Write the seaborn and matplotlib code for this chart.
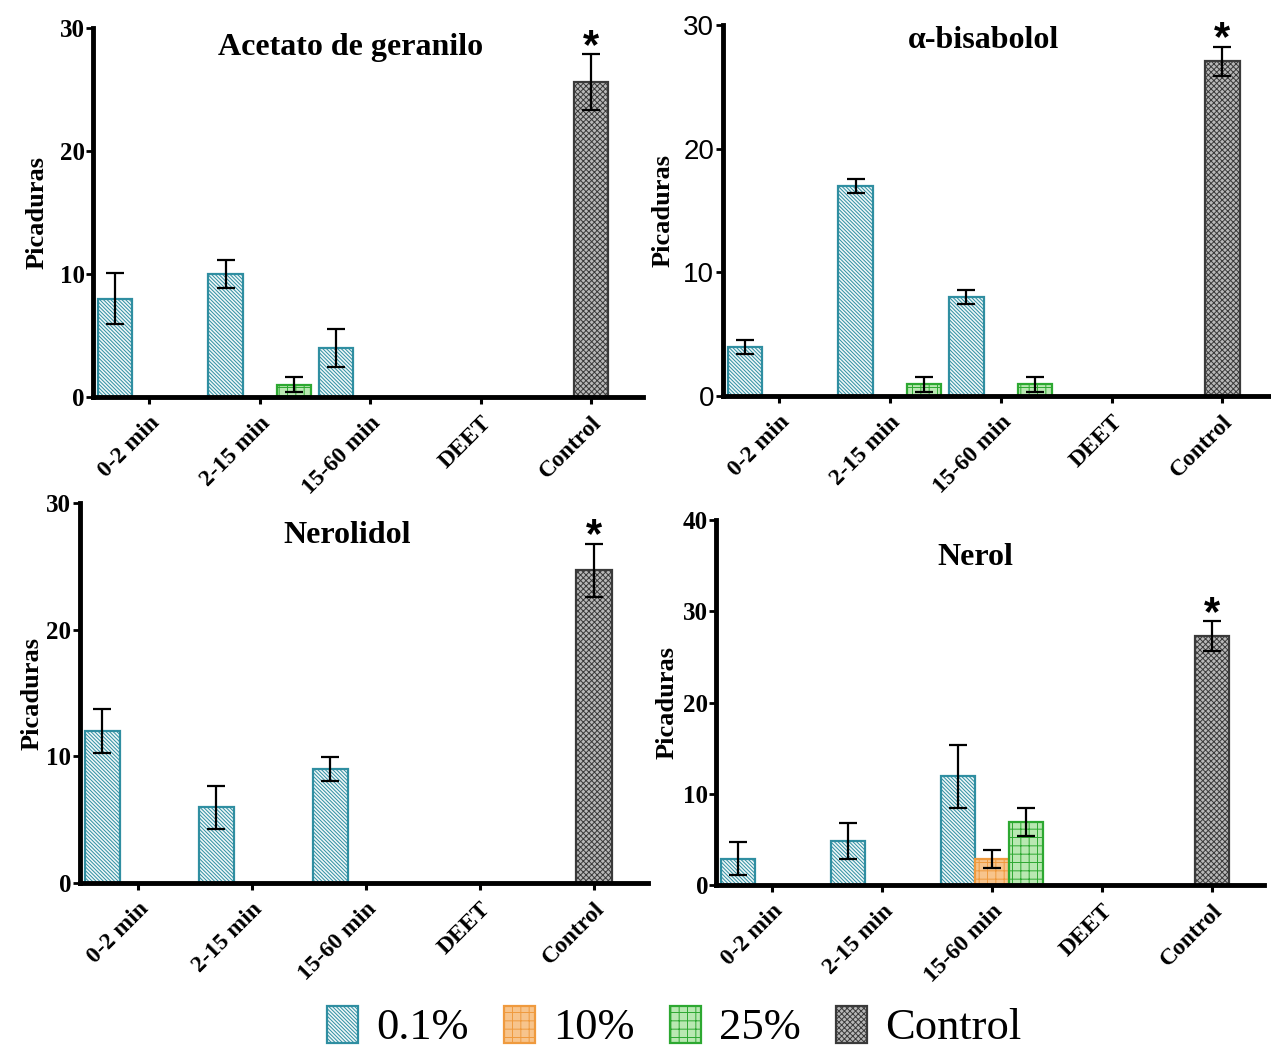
import numpy as np
import pandas as pd
import matplotlib
matplotlib.use('Agg')
import matplotlib.pyplot as plt
from matplotlib.patches import Patch
import seaborn as sns

# -----------------------------
# Datos
# -----------------------------

categorias = ['0-2 min', '2-15 min', '15-60 min', 'DEET', 'Control']
niveles = ['0.1%', '10%', '25%']

# Acetato de geranilo
acetato_01 = [8.0, 10.0, 4.0, 0, 0]
acetato_01_err = [2.1, 1.15, 1.55, 0, 0]
acetato_10 = [0, 0, 0, 0, 0]
acetato_10_err = [0, 0, 0, 0, 0]
acetato_25 = [0, 1.0, 0, 0, 0]
acetato_25_err = [0, 0.6, 0, 0, 0]
acetato_control = 25.6
acetato_control_err = 2.25

# alfa-bisabolol
bisabolol_01 = [3.95, 17.0, 8.0, 0, 0]
bisabolol_01_err = [0.57, 0.58, 0.55, 0, 0]
bisabolol_10 = [0, 0, 0, 0, 0]
bisabolol_10_err = [0, 0, 0, 0, 0]
bisabolol_25 = [0, 0.95, 0.95, 0, 0]
bisabolol_25_err = [0, 0.6, 0.6, 0, 0]
bisabolol_control = 27.05
bisabolol_control_err = 1.2

# Nerolidol
nerolidol_01 = [12.0, 6.0, 9.0, 0, 0]
nerolidol_01_err = [1.72, 1.7, 0.96, 0, 0]
nerolidol_10 = [0, 0, 0, 0, 0]
nerolidol_10_err = [0, 0, 0, 0, 0]
nerolidol_25 = [0, 0, 0, 0, 0]
nerolidol_25_err = [0, 0, 0, 0, 0]
nerolidol_control = 24.7
nerolidol_control_err = 2.1

# Nerol
nerol_01 = [2.9, 4.85, 11.9, 0, 0]
nerol_01_err = [1.8, 2.0, 3.5, 0, 0]
nerol_10 = [0, 0, 2.87, 0, 0]
nerol_10_err = [0, 0, 0.97, 0, 0]
nerol_25 = [0, 0, 6.9, 0, 0]
nerol_25_err = [0, 0, 1.5, 0, 0]
nerol_control = 27.26
nerol_control_err = 1.64

# -----------------------------
# Estilos
# -----------------------------

estilos = {
    '0.1%': dict(facecolor='#eef7f8', edgecolor='#2f8ea1', hatch='\\' * 9),
    '10%': dict(facecolor='#f7c48c', edgecolor='#ef9a3e', hatch='++'),
    '25%': dict(facecolor='#b9e8b2', edgecolor='#2da831', hatch='++'),
    'Control': dict(facecolor='#b8b8b8', edgecolor='#3a3a3a', hatch='x' * 6),
}

sns.set_theme(style='ticks')
plt.rcParams['font.family'] = ['Liberation Serif', 'DejaVu Serif']
plt.rcParams['hatch.linewidth'] = 0.7
for clave in ['text.color', 'axes.labelcolor', 'xtick.color', 'ytick.color']:
    plt.rcParams[clave] = 'black'


def tabla(v01, v10, v25):
    return pd.DataFrame({
        'tiempo': categorias * 3,
        'concentracion': np.repeat(niveles, len(categorias)),
        'picaduras': v01 + v10 + v25,
    })


paneles = [
    dict(titulo='Acetato de geranilo', df=tabla(acetato_01, acetato_10, acetato_25),
         err=[acetato_01_err, acetato_10_err, acetato_25_err],
         control=acetato_control, control_err=acetato_control_err,
         pos=[0.0732, 0.6233, 0.4327, 0.3501], ymax=30, tit=(0.469, 0.927), pad=8),
    dict(titulo='α-bisabolol', df=tabla(bisabolol_01, bisabolol_10, bisabolol_25),
         err=[bisabolol_01_err, bisabolol_10_err, bisabolol_25_err],
         control=bisabolol_control, control_err=bisabolol_control_err,
         pos=[0.5685, 0.6243, 0.4343, 0.3520], ymax=30, tit=(0.472, 0.938), pad=6),
    dict(titulo='Nerolidol', df=tabla(nerolidol_01, nerolidol_10, nerolidol_25),
         err=[nerolidol_01_err, nerolidol_10_err, nerolidol_25_err],
         control=nerolidol_control, control_err=nerolidol_control_err,
         pos=[0.0626, 0.1622, 0.4469, 0.3605], ymax=30, tit=(0.471, 0.895), pad=2),
    dict(titulo='Nerol', df=tabla(nerol_01, nerol_10, nerol_25),
         err=[nerol_01_err, nerol_10_err, nerol_25_err],
         control=nerol_control, control_err=nerol_control_err,
         pos=[0.5637, 0.1603, 0.4304, 0.3463], ymax=40, tit=(0.473, 0.877), pad=3),
]

# -----------------------------
# Figura
# -----------------------------

fig = plt.figure(figsize=(12.71, 10.54), dpi=100)

for i, p in enumerate(paneles):
    ax = fig.add_axes(p['pos'])

    sns.barplot(data=p['df'], x='tiempo', y='picaduras', hue='concentracion',
                order=categorias, hue_order=niveles, width=0.93,
                errorbar=None, legend=False, saturation=1, ax=ax)
    sns.barplot(x=['Control'], y=[p['control']], order=categorias, width=0.31,
                errorbar=None, saturation=1, ax=ax)

    barras = list(ax.containers)
    grupos = list(zip(barras[:3], niveles, p['err']))
    grupos.append((barras[3], 'Control', [p['control_err']]))

    for cont, nivel, errores in grupos:
        for bar, e in zip(cont, errores):
            bar.set(**estilos[nivel])
            bar.set_linewidth(1.6)
            if e > 0:
                xc = bar.get_x() + bar.get_width() / 2
                ax.errorbar(xc, bar.get_height(), yerr=e, color='black',
                            elinewidth=1.6, capsize=6.5, capthick=1.6, zorder=3)

    # asterisco sobre el control
    bar_c = barras[3][0]
    ax.annotate('*', xy=(bar_c.get_x() + bar_c.get_width() / 2,
                         p['control'] + p['control_err']),
                xytext=(0, -9), textcoords='offset points', ha='center', va='bottom',
                fontsize=30, fontweight='bold', family='Liberation Sans')

    ax.set_xlim(-0.51, 4.47)
    ax.set_ylim(0, p['ymax'])
    ax.set_yticks(range(0, p['ymax'] + 1, 10))
    sns.despine(ax=ax)
    for lado in ['left', 'bottom']:
        ax.spines[lado].set_linewidth(3.5)
        ax.spines[lado].set_color('black')

    ax.set_xticks(range(len(categorias)))
    ax.set_xticklabels(categorias, rotation=45, ha='right', va='top',
                       rotation_mode='anchor', fontsize=17, fontweight='bold')
    ax.tick_params(axis='x', length=5, width=2.2, pad=6, colors='black')
    ax.tick_params(axis='y', length=5, width=2, pad=1, colors='black')
    if i == 1:
        ax.set_yticklabels([str(v) for v in range(0, p['ymax'] + 1, 10)],
                           family='Liberation Sans', fontsize=20)
    else:
        ax.set_yticklabels([str(v) for v in range(0, p['ymax'] + 1, 10)],
                           fontsize=18, fontweight='bold')

    ax.set_xlabel('')
    ax.set_ylabel('Picaduras', fontsize=19, fontweight='bold', labelpad=p['pad'])
    ax.text(p['tit'][0], p['tit'][1], p['titulo'], transform=ax.transAxes,
            ha='center', va='baseline', fontsize=23, fontweight='bold')

# -----------------------------
# Leyenda
# -----------------------------

manijas = [Patch(linewidth=1.6, **estilos[k]) for k in niveles + ['Control']]
fig.legend(manijas, niveles + ['Control'], loc='center',
           bbox_to_anchor=(674 / 1271, 1 - 1027 / 1054), ncol=4, frameon=False,
           prop={'family': 'Liberation Serif', 'size': 32},
           handlelength=0.7, handleheight=0.9, handletextpad=0.4, columnspacing=0.8)

plt.savefig('out.png', dpi=100)
